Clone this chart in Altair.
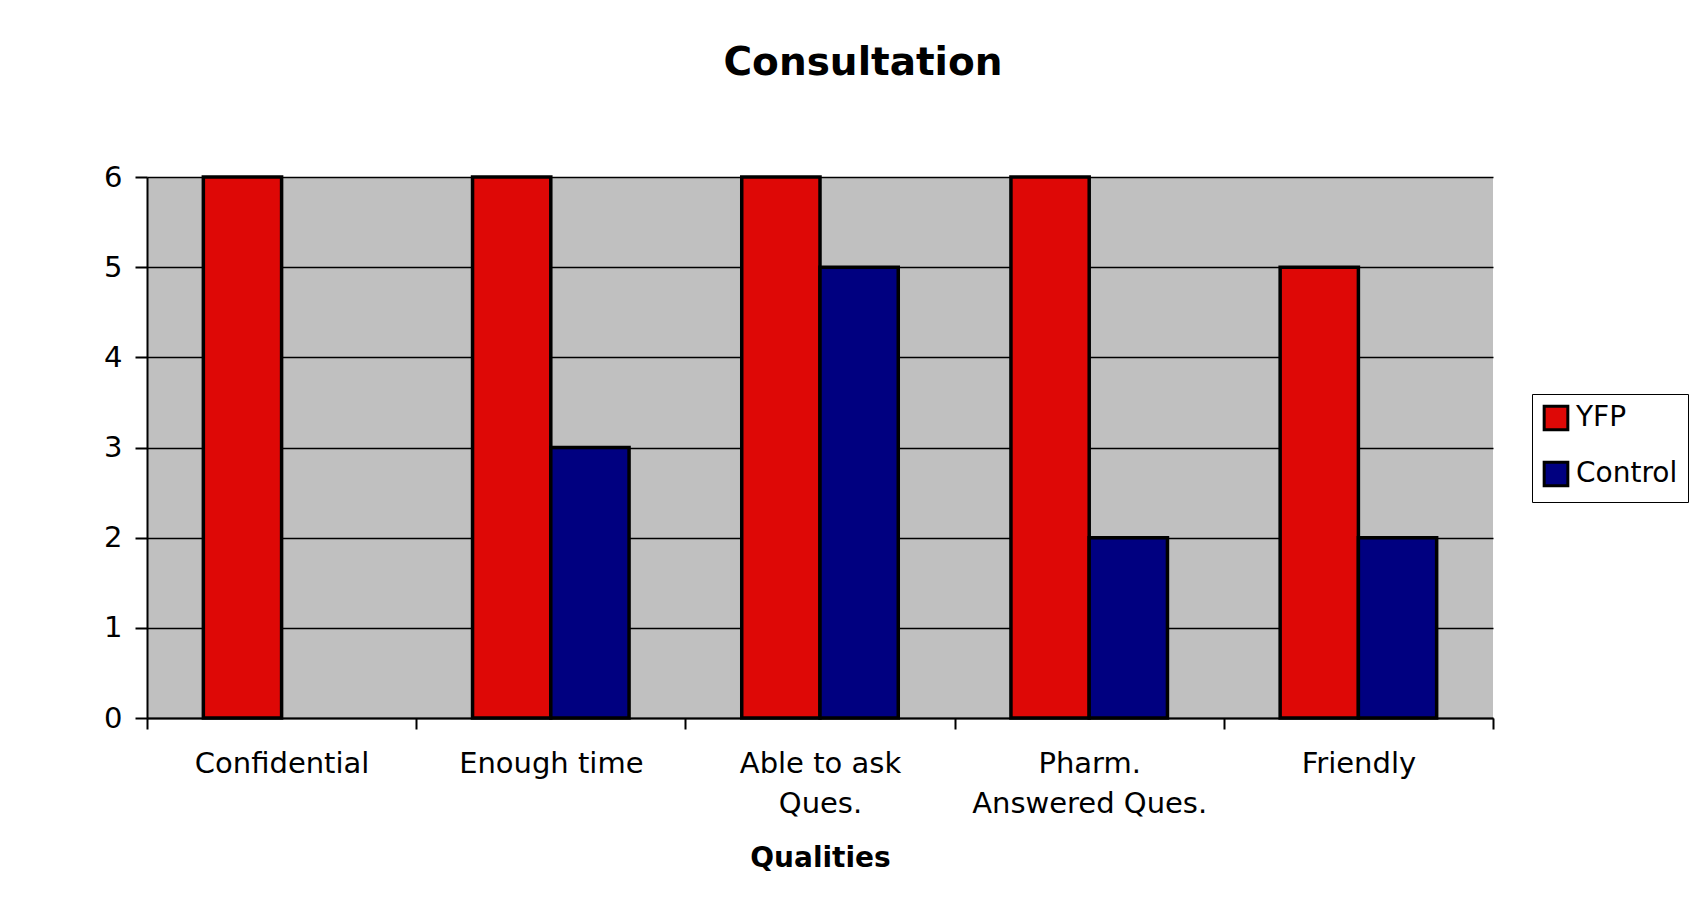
import altair as alt
import pandas as pd

categories = ["Confidential", "Enough time", "Able to ask Ques.", "Pharm. Answered Ques.", "Friendly"]
series = ["YFP", "Control"]
yfp_values = [6, 6, 6, 6, 5]
control_values = [0, 3, 5, 2, 2]
colors = ["#DE0806", "#000080"]

rows = []
for c, v in zip(categories, yfp_values):
    rows.append({"Quality": c, "Group": "YFP", "Value": v})
for c, v in zip(categories, control_values):
    rows.append({"Quality": c, "Group": "Control", "Value": v})
df = pd.DataFrame(rows)

FONT = "DejaVu Sans"

label_expr = (
    "datum.value == 'Able to ask Ques.' ? ['Able to ask', 'Ques.'] : "
    "datum.value == 'Pharm. Answered Ques.' ? ['Pharm.', 'Answered Ques.'] : datum.value"
)

chart = (
    alt.Chart(df)
    .transform_filter("datum.Value > 0")
    .mark_bar(stroke="black", strokeWidth=3.5)
    .encode(
        x=alt.X(
            "Quality:N",
            sort=categories,
            scale=alt.Scale(domain=categories, paddingInner=0, paddingOuter=0),
            axis=alt.Axis(
                title="Qualities",
                titleFont=FONT,
                titleFontSize=28,
                titleFontWeight="bold",
                titleColor="black",
                titlePadding=26,
                labelFont=FONT,
                labelFontSize=29,
                labelColor="black",
                labelAngle=0,
                labelPadding=20,
                labelLineHeight=40,
                labelLimit=0,
                labelExpr=label_expr,
                tickBand="extent",
                tickColor="black",
                tickSize=11,
                tickWidth=2,
                domainColor="black",
                domainWidth=2,
                grid=False,
            ),
        ),
        xOffset=alt.XOffset(
            "Group:N",
            sort=series,
            scale=alt.Scale(domain=series, paddingInner=0, paddingOuter=0.72),
        ),
        y=alt.Y(
            "Value:Q",
            scale=alt.Scale(domain=[0, 6], nice=False),
            axis=alt.Axis(
                title=None,
                values=[0, 1, 2, 3, 4, 5, 6],
                labelFont=FONT,
                labelFontSize=29,
                labelColor="black",
                labelPadding=13,
                tickColor="black",
                tickSize=12,
                tickWidth=2,
                domainColor="black",
                domainWidth=2,
                grid=True,
                gridColor="black",
                gridWidth=1.5,
                gridOpacity=1,
            ),
        ),
        fill=alt.Fill(
            "Group:N",
            sort=series,
            scale=alt.Scale(domain=series, range=colors),
            legend=alt.Legend(
                title=None,
                orient="none",
                legendX=1385,
                legendY=217,
                labelFont=FONT,
                labelFontSize=28,
                labelColor="black",
                labelOffset=6,
                symbolType="square",
                symbolSize=560,
                symbolStrokeColor="black",
                symbolStrokeWidth=3,
                padding=10,
                rowPadding=20,
                strokeColor="black",
                fillColor="white",
                cornerRadius=0,
            ),
        ),
    )
    .properties(
        width=1346,
        height=541,
        title=alt.TitleParams(
            "Consultation",
            font=FONT,
            fontSize=39,
            fontWeight="bold",
            color="black",
            anchor="middle",
            dx=43,
            offset=80,
        ),
        autosize=alt.AutoSizeParams(type="none"),
        padding={"left": 139, "top": 169, "right": 201, "bottom": 180},
        background="white",
    )
    .configure_view(fill="#C0C0C0", stroke=None)
)

chart.save("out.html", embed_options={"renderer": "svg", "actions": False})
